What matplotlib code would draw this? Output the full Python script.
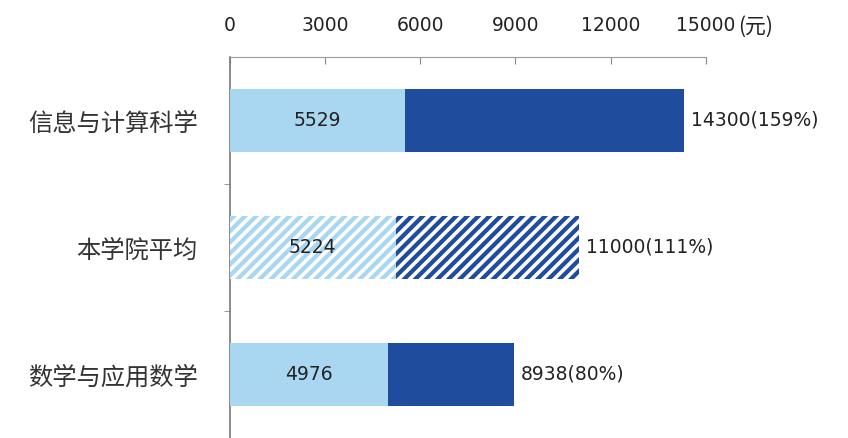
import matplotlib.pyplot as plt
import numpy as np

plt.rcParams['font.family'] = ['Noto Sans CJK SC', 'DejaVu Sans']
plt.rcParams['hatch.linewidth'] = 2.6

categories = ['信息与计算科学', '本学院平均', '数学与应用数学']
start_salary = [5529, 5224, 4976]
current_salary = [14300, 11000, 8938]
growth_pct = [159, 111, 80]
xticks = [0, 3000, 6000, 9000, 12000, 15000]

light = '#A9D6F1'
dark = '#1F4C9C'
num_font = ['DejaVu Sans']
txt_color = '#222222'

fig = plt.figure(figsize=(8.48, 4.38), dpi=100)
ax = fig.add_axes([0.271, 0.0, 0.5615, 0.870])

y = np.arange(len(categories))[::-1]
h = 0.49
for i, yi in enumerate(y):
    hatched = categories[i] == '本学院平均'
    kw = dict(hatch='///', edgecolor='white', linewidth=0) if hatched else dict(linewidth=0)
    ax.barh(yi, current_salary[i], height=h, color=dark, zorder=2, **kw)
    ax.barh(yi, start_salary[i], height=h, color=light, zorder=3, **kw)
    ax.text(start_salary[i] / 2, yi, str(start_salary[i]), ha='center', va='center',
            fontsize=13.5, family=num_font, color=txt_color, zorder=5)
    ax.text(current_salary[i] + 220, yi, f'{current_salary[i]}({growth_pct[i]}%)',
            ha='left', va='center', fontsize=13.5, family=num_font, color=txt_color,
            clip_on=False)

ax.set_xlim(0, 15000)
ax.set_ylim(-0.5, 2.5)
ax.xaxis.tick_top()
ax.set_xticks(xticks)
ax.set_xticklabels([str(t) for t in xticks], fontsize=13.5, family=num_font, color=txt_color)
ax.tick_params(axis='x', direction='in', length=5, color='#888888', pad=16)
ax.set_yticks(y)
ax.set_yticklabels(categories, fontsize=17.5, color='#333333')
ax.tick_params(axis='y', length=0, pad=23)
ax.set_yticks([0.5, 1.5], minor=True)
ax.tick_params(axis='y', which='minor', direction='out', length=4, color='#888888')

ax.annotate('(元)', xy=(15000, 1), xycoords=('data', 'axes fraction'),
            xytext=(23, 22), textcoords='offset points', ha='left', va='center',
            fontsize=15, color=txt_color, annotation_clip=False)

for side in ['right', 'bottom']:
    ax.spines[side].set_visible(False)
ax.spines['top'].set_color('#999999')
ax.spines['left'].set_color('#777777')
ax.spines['left'].set_linewidth(1.2)

fig.savefig('out.png', dpi=100)
